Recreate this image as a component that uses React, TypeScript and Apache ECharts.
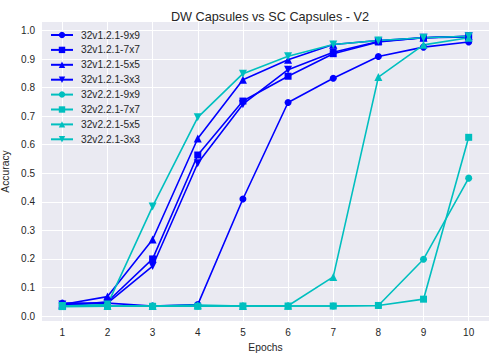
import React, { useEffect, useRef } from "react";
import * as echarts from "echarts";

const epochs = [1, 2, 3, 4, 5, 6, 7, 8, 9, 10];
const yTicks = [0, 0.1, 0.2, 0.3, 0.4, 0.5, 0.6, 0.7, 0.8, 0.9, 1.0];

const v1_9x9 = [0.045, 0.045, 0.035, 0.04, 0.41, 0.748, 0.833, 0.909, 0.942, 0.96];
const v1_7x7 = [0.035, 0.05, 0.2, 0.564, 0.753, 0.84, 0.919, 0.96, 0.975, 0.978];
const v1_5x5 = [0.04, 0.068, 0.268, 0.622, 0.828, 0.898, 0.951, 0.965, 0.975, 0.98];
const v1_3x3 = [0.04, 0.045, 0.175, 0.535, 0.742, 0.863, 0.924, 0.962, 0.975, 0.98];
const v2_9x9 = [0.035, 0.035, 0.035, 0.035, 0.035, 0.035, 0.035, 0.037, 0.199, 0.483];
const v2_7x7 = [0.033, 0.034, 0.034, 0.034, 0.035, 0.035, 0.035, 0.037, 0.059, 0.626];
const v2_5x5 = [0.035, 0.035, 0.035, 0.038, 0.035, 0.036, 0.137, 0.837, 0.95, 0.975];
const v2_3x3 = [0.035, 0.04, 0.384, 0.696, 0.849, 0.91, 0.951, 0.965, 0.975, 0.98];

const seriesDefs = [
  { name: "32v1.2.1-9x9", data: v1_9x9, color: "#0000ff", symbol: "circle", rot: 0 },
  { name: "32v1.2.1-7x7", data: v1_7x7, color: "#0000ff", symbol: "rect", rot: 0 },
  { name: "32v1.2.1-5x5", data: v1_5x5, color: "#0000ff", symbol: "triangle", rot: 0 },
  { name: "32v1.2.1-3x3", data: v1_3x3, color: "#0000ff", symbol: "triangle", rot: 180 },
  { name: "32v2.2.1-9x9", data: v2_9x9, color: "#00bfbf", symbol: "circle", rot: 0 },
  { name: "32v2.2.1-7x7", data: v2_7x7, color: "#00bfbf", symbol: "rect", rot: 0 },
  { name: "32v2.2.1-5x5", data: v2_5x5, color: "#00bfbf", symbol: "triangle", rot: 0 },
  { name: "32v2.2.1-3x3", data: v2_3x3, color: "#00bfbf", symbol: "triangle", rot: 180 },
];

const FONT = "Liberation Sans";
const TXT = "#262626";

export default function App() {
  const ref = useRef<HTMLDivElement>(null);
  useEffect(() => {
    const chart = echarts.init(ref.current!, null, { renderer: "svg" });
    chart.setOption({
      animation: false,
      backgroundColor: "#ffffff",
      title: {
        text: "DW Capsules vs SC Capsules - V2",
        left: 265,
        textAlign: "center",
        top: 4,
        textStyle: { fontFamily: FONT, fontSize: 12.7, fontWeight: "normal", color: TXT, lineHeight: 15 },
      },
      legend: {
        orient: "vertical",
        left: 45,
        top: 25,
        itemWidth: 22,
        itemHeight: 8,
        itemGap: 4.9,
        textStyle: { fontFamily: FONT, fontSize: 10.2, color: TXT, lineHeight: 10, padding: [0, 0, 0, 3] },
        data: seriesDefs.map((s) => s.name),
      },
      grid: {
        left: 42,
        right: 6,
        top: 22,
        bottom: 38,
        show: true,
        backgroundColor: "#eaeaf2",
        borderWidth: 0,
        outerBoundsMode: "none",
        containLabel: false,
      },
      xAxis: {
        type: "value",
        min: 0.55,
        max: 10.45,
        name: "Epochs",
        nameLocation: "middle",
        nameGap: 21,
        nameTextStyle: { fontFamily: FONT, fontSize: 10.3, color: TXT },
        axisLine: { show: false },
        axisTick: { show: false, customValues: epochs },
        axisLabel: { customValues: epochs, fontFamily: FONT, fontSize: 10, color: TXT, margin: 6 },
        splitLine: { show: true, lineStyle: { color: "#ffffff", width: 1 } },
      },
      yAxis: {
        type: "value",
        min: -0.0175,
        max: 1.03,
        name: "Accuracy",
        nameLocation: "middle",
        nameGap: 30,
        nameTextStyle: { fontFamily: FONT, fontSize: 10.3, color: TXT },
        axisLine: { show: false },
        axisTick: { show: false, customValues: yTicks },
        axisLabel: {
          customValues: yTicks,
          fontFamily: FONT,
          fontSize: 10,
          color: TXT,
          margin: 7,
          formatter: (v: number) => v.toFixed(1),
        },
        splitLine: { show: true, lineStyle: { color: "#ffffff", width: 1 } },
      },
      series: seriesDefs.map((s) => ({
        name: s.name,
        type: "line",
        data: s.data.map((v, i) => [epochs[i], v]),
        symbol: s.symbol,
        symbolRotate: s.rot,
        symbolSize: s.symbol === "triangle" ? 8 : 7,
        showAllSymbol: true,
        itemStyle: { color: s.color },
        lineStyle: { color: s.color, width: 1.6 },
      })),
    });
    return () => chart.dispose();
  }, []);
  return <div ref={ref} style={{ width: 495, height: 359, position: "absolute", left: 0, top: 0 }} />;
}
